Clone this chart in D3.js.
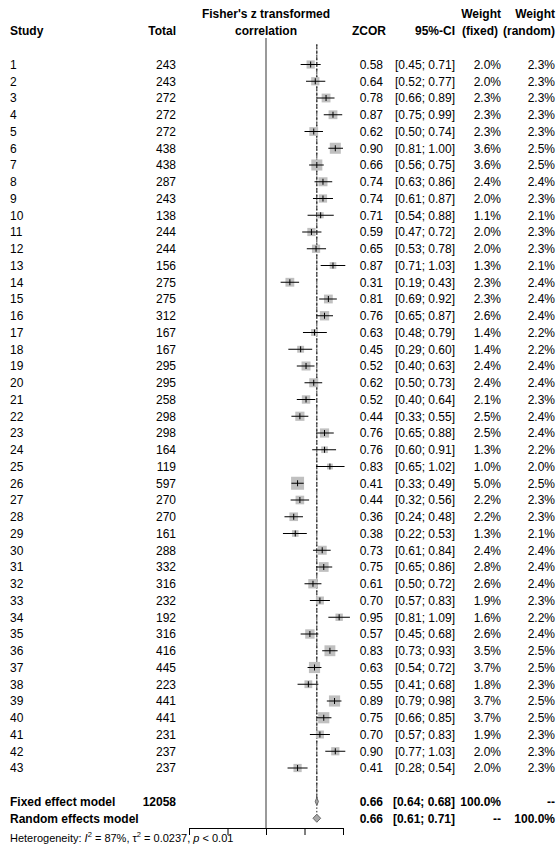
<!DOCTYPE html>
<html><head><meta charset="utf-8">
<script src="https://cdn.jsdelivr.net/npm/d3@7"></script>
<style>body{margin:0;background:#fff}svg{display:block;font-family:"Liberation Sans",Arial,sans-serif}</style>
</head><body>
<script>
const studies = d3.range(1, 44).map(String);
const totals = [243,243,272,272,272,438,438,287,243,138,244,244,156,275,275,312,167,167,295,295,258,298,298,164,119,597,270,270,161,288,332,316,232,192,316,416,445,223,441,441,231,237,237];
const zcor = [0.58,0.64,0.78,0.87,0.62,0.90,0.66,0.74,0.74,0.71,0.59,0.65,0.87,0.31,0.81,0.76,0.63,0.45,0.52,0.62,0.52,0.44,0.76,0.76,0.83,0.41,0.44,0.36,0.38,0.73,0.75,0.61,0.70,0.95,0.57,0.83,0.63,0.55,0.89,0.75,0.70,0.90,0.41];
const ciLow = [0.45,0.52,0.66,0.75,0.50,0.81,0.56,0.63,0.61,0.54,0.47,0.53,0.71,0.19,0.69,0.65,0.48,0.29,0.40,0.50,0.40,0.33,0.65,0.60,0.65,0.33,0.32,0.24,0.22,0.61,0.65,0.50,0.57,0.81,0.45,0.73,0.54,0.41,0.79,0.66,0.57,0.77,0.28];
const ciHigh = [0.71,0.77,0.89,0.99,0.74,1.00,0.75,0.86,0.87,0.88,0.72,0.78,1.03,0.43,0.92,0.87,0.79,0.60,0.63,0.73,0.64,0.55,0.88,0.91,1.02,0.49,0.56,0.48,0.53,0.84,0.86,0.72,0.83,1.09,0.68,0.93,0.72,0.68,0.98,0.85,0.83,1.03,0.54];
const wFixed = [2.0,2.0,2.3,2.3,2.3,3.6,3.6,2.4,2.0,1.1,2.0,2.0,1.3,2.3,2.3,2.6,1.4,1.4,2.4,2.4,2.1,2.5,2.5,1.3,1.0,5.0,2.2,2.2,1.3,2.4,2.8,2.6,1.9,1.6,2.6,3.5,3.7,1.8,3.7,3.7,1.9,2.0,2.0];
const wRandom = [2.3,2.3,2.3,2.3,2.3,2.5,2.5,2.4,2.3,2.1,2.3,2.3,2.1,2.4,2.4,2.4,2.2,2.2,2.4,2.4,2.3,2.4,2.4,2.2,2.0,2.5,2.3,2.3,2.1,2.4,2.4,2.4,2.3,2.2,2.4,2.5,2.5,2.3,2.5,2.5,2.3,2.3,2.3];
const summaryLabels = ["Fixed effect model", "Random effects model"];
const summaryTotal = ["12058", ""];
const summaryEst = [0.66, 0.66];
const summaryLow = [0.64, 0.61];
const summaryHigh = [0.68, 0.71];
const summaryWFixed = ["100.0%", "--"];
const summaryWRandom = ["--", "100.0%"];
const axisTicks = [-1, -0.5, 0, 0.5, 1];
const hetText = {I2: "87%", tau2: "0.0237", p: "< 0.01"};

const W = 559, H = 850;
const svg = d3.select("body").append("svg").attr("width", W).attr("height", H);
const fs = 12;
const x = d3.scaleLinear().domain([-1, 1]).range([189, 343]);
const row0 = 64.5, rowH = 16.75;
const y = d3.scaleLinear().domain([0, 1]).range([row0, row0 + rowH]);
const base = 4.3;
const f2 = d3.format(".2f"), f1 = d3.format(".1f");

const colX = {study: 10, total: 176, zcor: 383, ci: 455, wf: 501, wr: 555};

// header
const hdr = svg.append("g").attr("font-weight", "bold").attr("font-size", fs);
const h1 = 13.5 + base, h2 = 31 + base;
hdr.append("text").attr("x", colX.study).attr("y", h2).text("Study");
hdr.append("text").attr("x", colX.total).attr("y", h2).attr("text-anchor", "end").text("Total");
hdr.append("text").attr("x", x(0)).attr("y", h1).attr("text-anchor", "middle").text("Fisher's z transformed");
hdr.append("text").attr("x", x(0)).attr("y", h2).attr("text-anchor", "middle").text("correlation");
hdr.append("text").attr("x", colX.zcor + 3).attr("y", h2).attr("text-anchor", "end").text("ZCOR");
hdr.append("text").attr("x", colX.ci).attr("y", h2).attr("text-anchor", "end").text("95%-CI");
hdr.append("text").attr("x", colX.wf).attr("y", h1).attr("text-anchor", "end").text("Weight");
hdr.append("text").attr("x", colX.wf - 3).attr("y", h2).attr("text-anchor", "end").text("(fixed)");
hdr.append("text").attr("x", colX.wr).attr("y", h1).attr("text-anchor", "end").text("Weight");
hdr.append("text").attr("x", colX.wr).attr("y", h2).attr("text-anchor", "end").text("(random)");

// null line
const nullTop = 38, axisY = 828;
svg.append("line").attr("x1", x(0)).attr("x2", x(0)).attr("y1", nullTop).attr("y2", axisY)
  .attr("stroke", "#9a9a9a").attr("stroke-width", 2);

// fixed/random effect dashed lines
svg.append("line").attr("x1", x(summaryEst[0])).attr("x2", x(summaryEst[0]))
  .attr("y1", y(-1.2)).attr("y2", y(44))
  .attr("stroke", "#222").attr("stroke-width", 1).attr("stroke-dasharray", "4,2");
svg.append("line").attr("x1", x(summaryEst[1])).attr("x2", x(summaryEst[1]))
  .attr("y1", y(-1.2)).attr("y2", y(45))
  .attr("stroke", "#222").attr("stroke-width", 1).attr("stroke-dasharray", "1.5,2");

// study rows
const data = studies.map((s, i) => ({s, t: totals[i], e: zcor[i], lo: ciLow[i], hi: ciHigh[i], wf: wFixed[i], wr: wRandom[i], i}));
const sq = d3.scaleSqrt().domain([0, 5]).range([0, 13]);
const rows = svg.append("g");
rows.selectAll("rect.sq").data(data).join("rect").attr("class", "sq")
  .attr("x", d => x(d.e) - sq(d.wf) / 2).attr("y", d => y(d.i) - sq(d.wf) / 2)
  .attr("width", d => sq(d.wf)).attr("height", d => sq(d.wf)).attr("fill", "#c0c0c0");
rows.selectAll("line.ci").data(data).join("line").attr("class", "ci")
  .attr("x1", d => x(d.lo)).attr("x2", d => x(d.hi)).attr("y1", d => y(d.i)).attr("y2", d => y(d.i))
  .attr("stroke", "#000").attr("stroke-width", 1);
rows.selectAll("line.pt").data(data).join("line").attr("class", "pt")
  .attr("x1", d => x(d.e)).attr("x2", d => x(d.e)).attr("y1", d => y(d.i) - 3).attr("y2", d => y(d.i) + 3)
  .attr("stroke", "#000").attr("stroke-width", 1);

const txt = svg.append("g").attr("font-size", fs).attr("fill", "#000");
const addCol = (key, fn, anchor) => txt.selectAll(null).data(data).join("text")
  .attr("x", colX[key]).attr("y", d => y(d.i) + base).attr("text-anchor", anchor).text(fn);
addCol("study", d => d.s, "start");
addCol("total", d => d.t, "end");
addCol("zcor", d => f2(d.e), "end");
addCol("ci", d => `[${f2(d.lo)}; ${f2(d.hi)}]`, "end");
addCol("wf", d => f1(d.wf) + "%", "end");
addCol("wr", d => f1(d.wr) + "%", "end");

// summary rows
const sdata = summaryLabels.map((l, k) => ({l, t: summaryTotal[k], e: summaryEst[k], lo: summaryLow[k], hi: summaryHigh[k], wf: summaryWFixed[k], wr: summaryWRandom[k], r: 44 + k}));
const stx = svg.append("g").attr("font-size", fs).attr("font-weight", "bold");
const addS = (key, fn, anchor) => stx.selectAll(null).data(sdata).join("text")
  .attr("x", colX[key]).attr("y", d => y(d.r) + base).attr("text-anchor", anchor).text(fn);
addS("study", d => d.l, "start");
addS("total", d => d.t, "end");
addS("zcor", d => f2(d.e), "end");
addS("ci", d => `[${f2(d.lo)}; ${f2(d.hi)}]`, "end");
addS("wf", d => d.wf, "end");
addS("wr", d => d.wr, "end");

svg.selectAll("path.dia").data(sdata).join("path").attr("class", "dia")
  .attr("d", d => `M${x(d.lo)},${y(d.r)} L${x(d.e)},${y(d.r) - 4} L${x(d.hi)},${y(d.r)} L${x(d.e)},${y(d.r) + 4} Z`)
  .attr("fill", "#a8a8a8").attr("stroke", "#666").attr("stroke-width", 1);

// axis
const ax = svg.append("g").attr("transform", `translate(0,${axisY})`)
  .call(d3.axisBottom(x).tickValues(axisTicks).tickSize(7).tickFormat(""));
ax.select(".domain").attr("stroke", "#000");
ax.selectAll(".tick line").attr("stroke", "#000");

// heterogeneity
const het = svg.append("text").attr("x", 10).attr("y", 842).attr("font-size", 11);
het.append("tspan").text("Heterogeneity: ");
het.append("tspan").attr("font-style", "italic").text("I");
het.append("tspan").attr("font-size", 7.5).attr("dy", -5).text("2");
het.append("tspan").attr("dy", 5).text(` = ${hetText.I2}, τ`);
het.append("tspan").attr("font-size", 7.5).attr("dy", -5).text("2");
het.append("tspan").attr("dy", 5).text(` = ${hetText.tau2}, `);
het.append("tspan").attr("font-style", "italic").text("p");
het.append("tspan").text(" " + hetText.p);
</script>
</body></html>
